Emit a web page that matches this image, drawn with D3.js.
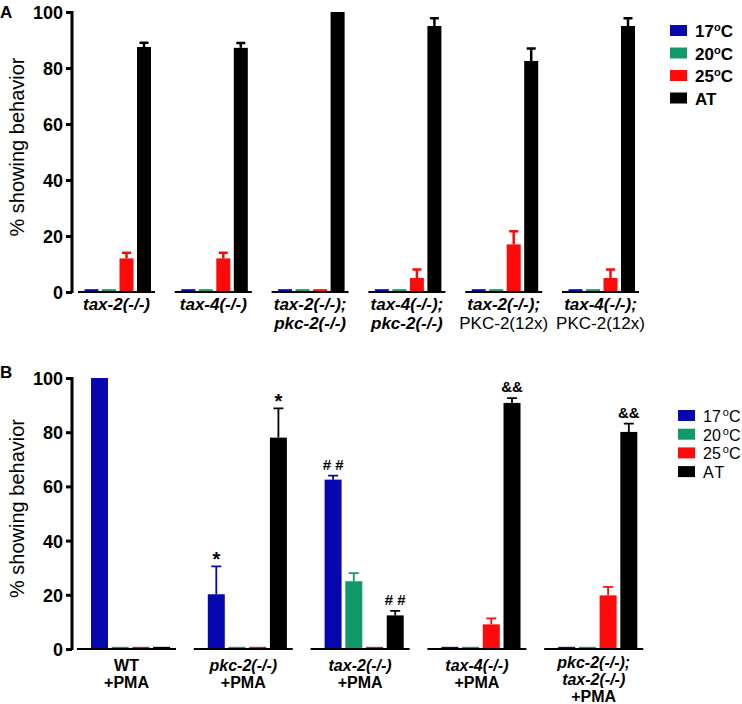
<!DOCTYPE html>
<html>
<head>
<meta charset="utf-8">
<script src="https://cdn.jsdelivr.net/npm/d3@7"></script>
<style>
body { margin: 0; background: #fff; }
svg text { font-family: "Liberation Sans", Arial, sans-serif; fill: #000; }
</style>
</head>
<body>
<svg id="svg" width="742" height="704"></svg>
<script>
// series
var seriesNames = ["17", "20", "25", "AT"]
var seriesColors = ["#0707b0", "#11996a", "#ff0a0a", "#000000"]

// panel A
var groupsA = [["tax-2(-/-)"], ["tax-4(-/-)"], ["tax-2(-/-);", "pkc-2(-/-)"],
	["tax-4(-/-);", "pkc-2(-/-)"], ["tax-2(-/-);", "PKC-2(12x)"], ["tax-4(-/-);", "PKC-2(12x)"]]
var meanA17 = [1, 1, 1, 1, 1, 1]
var meanA20 = [1, 1, 1, 1, 1, 1]
var meanA25 = [12, 12, 1, 5, 17, 5]
var meanAAT = [87.5, 87.2, 100, 95, 82.5, 95]
var errA17 = [0, 0, 0, 0, 0, 0]
var errA20 = [0, 0, 0, 0, 0, 0]
var errA25 = [2, 2, 0, 3, 4.7, 3]
var errAAT = [1.5, 1.7, 0, 2.8, 4.5, 2.8]

// panel B
var groupsB = [["WT", "+PMA"], ["pkc-2(-/-)", "+PMA"], ["tax-2(-/-)", "+PMA"],
	["tax-4(-/-)", "+PMA"], ["pkc-2(-/-);", "tax-2(-/-)", "+PMA"]]
var meanB17 = [100, 20.2, 62.5, 0.8, 0.8]
var meanB20 = [0.8, 0.8, 25, 0.8, 0.8]
var meanB25 = [0.8, 0.8, 0.8, 9.1, 19.8]
var meanBAT = [0.8, 78, 12.4, 90.8, 80.1]
var errB17 = [0, 10.3, 1.5, 0, 0]
var errB20 = [0, 0, 3, 0, 0]
var errB25 = [0, 0, 0, 2.2, 3.1]
var errBAT = [0, 10.8, 1.7, 1.8, 3.1]
var marksB = [[1, 0, "*"], [1, 3, "*"], [2, 0, "# #"], [2, 3, "# #"], [3, 3, "&&"], [4, 3, "&&"]]

var yTicks = [0, 20, 40, 60, 80, 100]

var svg = d3.select("#svg")

function panel(o) {
	var g = svg.append("g")
	var idx = d3.range(o.groups.length)
	var y = d3.scaleLinear().domain([0, 100]).range([o.y0, o.y1])
	var x = d3.scaleBand().domain(idx).range(o.xr).paddingInner(o.padG)
	var xi = d3.scaleBand().domain(d3.range(4)).range(o.xir).paddingInner(o.padS)

	// y axis
	var ax = g.append("g")
		.attr("transform", "translate(72,0)")
		.call(d3.axisLeft(y).tickValues(yTicks).tickSize(6).tickSizeOuter(0).tickPadding(3))
	ax.select(".domain").attr("stroke-width", 3).attr("d", "M0," + (o.y0 + 1) + "V" + (o.y1 - 1))
	ax.selectAll(".tick line").attr("stroke-width", 3)
	ax.selectAll(".tick text").style("font-size", "18px").style("font-weight", "bold")
		.attr("dy", "0.36em")

	g.append("text")
		.attr("transform", "translate(24," + ((o.y0 + o.y1) / 2 - 5) + ") rotate(-90)")
		.attr("text-anchor", "middle")
		.style("font-size", "20px")
		.text("% showing behavior")

	g.append("text").attr("x", 0).attr("y", o.y1 + o.letterDy)
		.style("font-size", "17px").style("font-weight", "bold").text(o.letter)

	// bars + error bars
	o.means.forEach(function (m, s) {
		var gs = g.append("g")
		gs.selectAll("rect").data(idx).enter().append("rect")
			.attr("x", function (i) { return x(i) + xi(s) })
			.attr("width", xi.bandwidth())
			.attr("y", function (i) { return y(m[i]) })
			.attr("height", function (i) { return y(0) - y(m[i]) })
			.attr("fill", seriesColors[s])
		var withErr = idx.filter(function (i) { return o.errs[s][i] > 0 })
		gs.selectAll("path").data(withErr).enter().append("path")
			.attr("d", function (i) {
				var cx = x(i) + xi(s) + xi.bandwidth() / 2
				var t = y(m[i] + o.errs[s][i])
				return "M" + cx + "," + y(m[i]) + "V" + t + "M" + (cx - o.cap) + "," + t + "H" + (cx + o.cap)
			})
			.attr("stroke", seriesColors[s])
			.attr("stroke-width", o.errW)
			.attr("fill", "none")
	})

	// broken baseline
	g.selectAll(".base").data(idx).enter().append("line")
		.attr("x1", function (i) { return x(i) }).attr("x2", function (i) { return x(i) + x.bandwidth() })
		.attr("y1", y(0)).attr("y2", y(0))
		.attr("stroke", "#000").attr("stroke-width", 2)

	// category labels
	var lab = g.selectAll(".lab").data(idx).enter().append("text")
		.attr("text-anchor", "middle")
		.style("font-size", o.labSize)
	lab.selectAll("tspan").data(function (i) {
		return o.groups[i].map(function (t, k) { return { t: t, k: k, i: i, n: o.groups[i].length } })
	}).enter().append("tspan")
		.attr("x", function (d) { return x(d.i) + x.bandwidth() / 2 })
		.attr("y", function (d) { return o.labY(d) })
		.style("font-weight", function (d) { return /PKC/.test(d.t) ? "normal" : "bold" })
		.style("font-style", function (d) { return /^(tax|pkc)/.test(d.t) ? "italic" : "normal" })
		.text(function (d) { return d.t })

	// legend
	var lg = g.append("g").attr("transform", "translate(" + o.leg[0] + "," + o.leg[1] + ")")
	seriesNames.forEach(function (nm, s) {
		var r = lg.append("g").attr("transform", "translate(0," + s * o.legStep + ")")
		r.append("rect").attr("width", 17).attr("height", 11).attr("fill", seriesColors[s])
		var t = r.append("text").attr("x", o.legTx).attr("y", 12)
			.style("font-size", o.legSize).style("font-weight", o.legBold ? "bold" : "normal")
		if (nm == "AT") { t.text("AT").style("letter-spacing", o.legBold ? "0px" : "2px"); return }
		t.append("tspan").text(nm)
		t.append("tspan").attr("dy", -6).attr("dx", o.legBold ? 0 : 2).style("font-size", "11px").text("o")
		t.append("tspan").attr("dy", 6).text("C")
	})

	return { g: g, x: x, xi: xi, y: y }
}

panel({
	groups: groupsA, y0: 292, y1: 12, letter: "A", letterDy: 6,
	xr: [78, 639], padG: 0.2045, xir: [6.5, 73], padS: 0.2,
	means: [meanA17, meanA20, meanA25, meanAAT], errs: [errA17, errA20, errA25, errAAT],
	cap: 4.5, errW: 2.5, labSize: "17px",
	labY: function (d) { return 310 + d.k * 19 },
	leg: [670, 25], legStep: 22.5, legTx: 25, legBold: true, legSize: "17px"
})

var pB = panel({
	groups: groupsB, y0: 649, y1: 378, letter: "B", letterDy: 0,
	xr: [77, 643.2], padG: 0.1524, xir: [14, 93.1], padS: 0.18,
	means: [meanB17, meanB20, meanB25, meanBAT], errs: [errB17, errB20, errB25, errBAT],
	cap: 5, errW: 1.8, labSize: "16px",
	labY: function (d) { return (d.n == 3 ? 668 : 671) + d.k * 16.8 },
	leg: [678, 410], legStep: 18.7, legTx: 25, legBold: false, legSize: "16px"
})

// significance marks over panel B
var meansB = [meanB17, meanB20, meanB25, meanBAT]
var errsB = [errB17, errB20, errB25, errBAT]
pB.g.selectAll(".mark").data(marksB).enter().append("text")
	.attr("text-anchor", "middle")
	.attr("x", function (d) { return pB.x(d[0]) + pB.xi(d[1]) + pB.xi.bandwidth() / 2 })
	.attr("y", function (d) { return pB.y(meansB[d[1]][d[0]] + errsB[d[1]][d[0]]) - (d[2] == "*" ? 0 : 6) })
	.style("font-size", function (d) { return d[2] == "*" ? "20px" : "15px" })
	.style("font-weight", "bold")
	.text(function (d) { return d[2] })
</script>
</body>
</html>
